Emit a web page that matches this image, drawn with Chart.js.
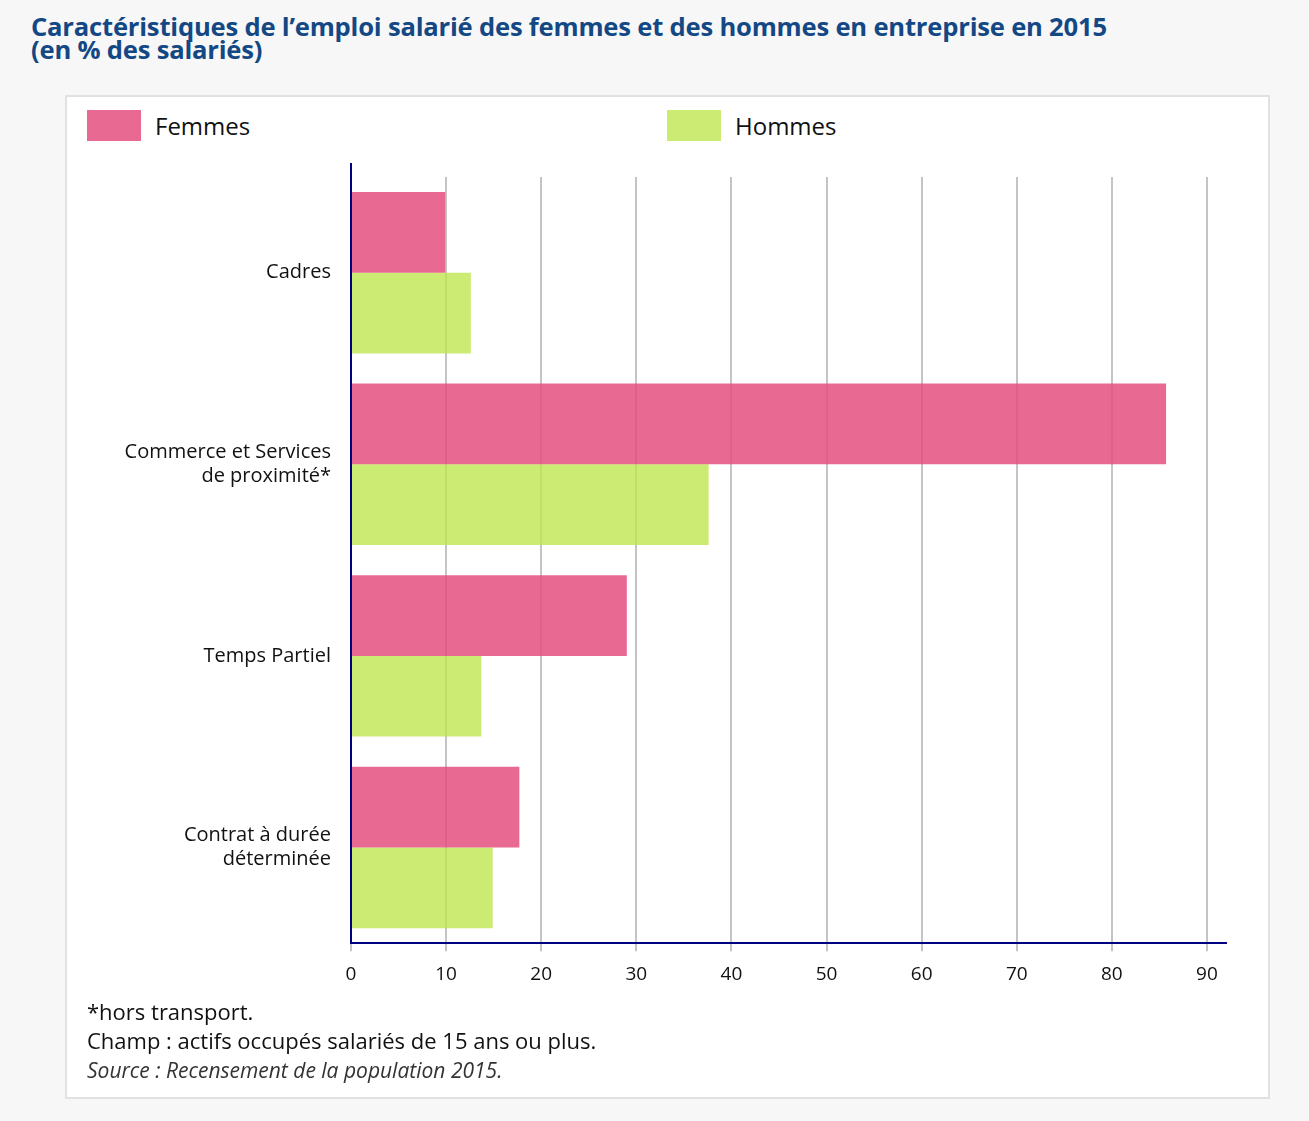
<!DOCTYPE html>
<html>
<head>
<meta charset="utf-8">
<script src="https://cdn.jsdelivr.net/npm/chart.js@4.4.1/dist/chart.umd.min.js"></script>
<style>
  html, body { margin:0; padding:0; background:#f7f7f7; font-family:"Open Sans", sans-serif; }
  #page { position:relative; width:1309px; height:1121px; }
  #title { position:absolute; left:31px; top:15px; font-weight:700; font-size:25.6px; line-height:23px; color:#134884; letter-spacing:-0.2px; }
  #panel { position:absolute; left:65px; top:95px; width:1201px; height:1000px; background:#fff; border:2px solid #e1e1e1; }
  .leg { position:absolute; top:13px; height:31px; display:flex; align-items:center; font-size:24px; color:#111; }
  .leg i { display:inline-block; width:54px; height:31px; margin-right:14px; }
  #c { position:absolute; left:0px; top:55px; }
  #notes { position:absolute; left:20px; top:900px; font-size:22px; line-height:29px; color:#111; }
  #notes .src { font-style:italic; font-size:21px; color:#333; }
</style>
</head>
<body>
<div id="page">
  <div id="title">Caractéristiques de l’emploi salarié des femmes et des hommes en entreprise en 2015<br>(en % des salariés)</div>
  <div id="panel">
    <div class="leg" style="left:20px"><i id="legF"></i>Femmes</div>
    <div class="leg" style="left:600px"><i id="legH"></i>Hommes</div>
    <canvas id="c" width="1199" height="846" style="width:1199px;height:846px"></canvas>
    <div id="notes">*hors transport.<br>Champ : actifs occupés salariés de 15 ans ou plus.<br><span class="src">Source : Recensement de la population 2015.</span></div>
  </div>
</div>
<script>
const categories = [["Cadres"], ["Commerce et Services", "de proximité*"], ["Temps Partiel"], ["Contrat à durée", "déterminée"]];
const seriesNames = ["Femmes", "Hommes"];
const femmes = [9.9, 85.7, 29.0, 17.7];
const hommes = [12.6, 37.6, 13.7, 14.9];
const xTicks = [0, 10, 20, 30, 40, 50, 60, 70, 80, 90];

const colF = "rgba(228, 80, 128, 0.85)";
const colH = "rgba(190, 230, 80, 0.8)";
document.getElementById("legF").style.background = colF;
document.getElementById("legH").style.background = colH;

const extendYAxis = {
  id: "extendYAxis",
  afterDraw(chart) {
    const ctx = chart.ctx, a = chart.chartArea;
    ctx.save();
    ctx.strokeStyle = "#000080";
    ctx.lineWidth = 2;
    ctx.beginPath();
    ctx.moveTo(a.left, a.top - 14);
    ctx.lineTo(a.left, a.top);
    ctx.stroke();
    ctx.restore();
  }
};

new Chart(document.getElementById("c"), {
  type: "bar",
  data: {
    labels: categories,
    datasets: [
      { label: seriesNames[0], data: femmes, backgroundColor: colF, barPercentage: 1, categoryPercentage: 0.843 },
      { label: seriesNames[1], data: hommes, backgroundColor: colH, barPercentage: 1, categoryPercentage: 0.843 }
    ]
  },
  options: {
    indexAxis: "y",
    responsive: false,
    animation: false,
    layout: { padding: { top: 25, right: 40, bottom: 0, left: 0 } },
    plugins: { legend: { display: false }, tooltip: { enabled: false } },
    scales: {
      x: {
        min: 0, max: 92,
        afterBuildTicks(scale) { scale.ticks = xTicks.map(v => ({ value: v })); },
        ticks: { stepSize: 10, includeBounds: false, color: "#111", font: { family: "Open Sans", size: 19 }, padding: 12 },
        grid: { color: "#c4c4c4", lineWidth: 2, tickLength: 8, drawOnChartArea: true },
        border: { color: "#000080", width: 2 }
      },
      y: {
        afterFit(scale) { scale.width = 284; scale.paddingTop = 0; scale.paddingBottom = 0; },
        ticks: { color: "#111", font: { family: "Open Sans", size: 20, lineHeight: 1.2 }, padding: 12 },
        grid: { display: false },
        border: { color: "#000080", width: 2 }
      }
    }
  },
  plugins: [extendYAxis]
});
</script>
</body>
</html>
